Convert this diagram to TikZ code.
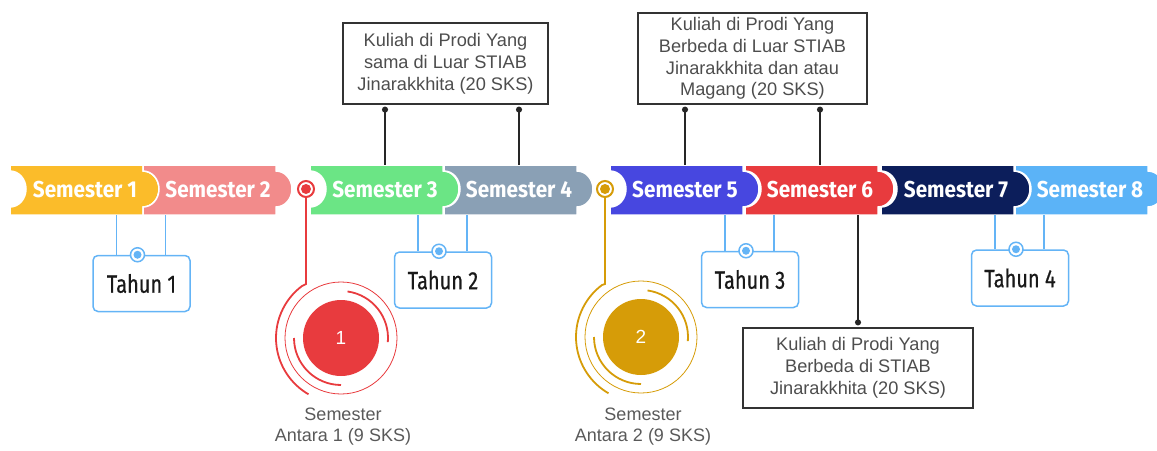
\documentclass[tikz,border=0pt]{standalone}
\usepackage{fontspec}
\setmainfont{Liberation Sans}
\newfontfamily\semfont{Fira Sans}[FakeStretch=0.9]
\newfontfamily\yearfont{Fira Sans}[FakeStretch=0.8,FakeBold=0.6]
\usepackage{tikz}
\usetikzlibrary{calc,arrows.meta}

\definecolor{semA}{HTML}{FBBC2A}
\definecolor{semB}{HTML}{F28B8B}
\definecolor{semC}{HTML}{6BE585}
\definecolor{semD}{HTML}{8AA0B5}
\definecolor{semE}{HTML}{4747E0}
\definecolor{semF}{HTML}{E83B3E}
\definecolor{semG}{HTML}{0C1E5B}
\definecolor{semH}{HTML}{5BB3F7}
\definecolor{yearblue}{HTML}{64B4F6}
\definecolor{antaraA}{HTML}{E83B3E}
\definecolor{antaraB}{HTML}{D69C08}
\definecolor{boxtext}{HTML}{4D4D4D}

\tikzset{
  semlabel/.style={text=white, font=\semfont\bfseries\fontsize{23}{23}\selectfont,
    minimum height=50pt, inner sep=0pt},
  yearbox/.style={draw=yearblue, line width=1.5pt, rounded corners=5pt, fill=white,
    minimum width=97pt, minimum height=56pt, text=black!90,
    font=\yearfont\fontsize{25}{25}\selectfont},
  yearline/.style={yearblue, line width=1.5pt},
  callout/.style={draw=black!80, line width=1.2pt, text=boxtext, align=center,
    inner sep=0pt, font=\fontsize{18.2}{21.8}\selectfont},
  callline/.style={black!85, line width=1.5pt, {Circle[length=6pt]}-},
  antaralabel/.style={align=center, text=black!65, font=\fontsize{18}{21}\selectfont}
}

\begin{document}
\begin{tikzpicture}[x=1pt,y=-1pt]
        \useasboundingbox (0,0) rectangle (1157,450);

        % Draw the semester pieces of the banner
        \foreach \n/\x/\col in {1/10/semA, 2/143/semB, 3/310/semC, 4/444/semD,
                                5/610/semE, 6/745/semF, 7/881/semG, 8/1015/semH} {
            \filldraw[fill=\col, draw=white, line width=1.5pt] (\x,165) -- ++(133,0) -- ++(0,6)
                arc[start angle=-90, end angle=90, x radius=16, y radius=18]
                -- (\x+133,215) -- (\x,215) -- ++(0,-8)
                arc[start angle=90, end angle=-90, x radius=16, y radius=18] -- cycle;
            \node[semlabel] (s\n) at (\x+75,190) {Semester \n};
        }

        % Year boxes below the banner
        \foreach \n/\x/\y in {1/141.5/283.5, 2/443/280, 3/750/279.5, 4/1020/278} {
            \node[yearbox] (t\n) at (\x,\y) {Tahun \n};
            \path (t\n.north) ++(-25,0) coordinate (tl) ++(49,0) coordinate (tr);
            \draw[yearline] (tl) -- (tl |- s1.south);
            \draw[yearline] (tr) -- (tr |- s1.south);
            \filldraw[yearline, fill=white] ($(t\n.north)+(-4,0)$) circle (7);
            \fill[yearblue] ($(t\n.north)+(-4,0)$) circle (4);
        }

        % Semester antara markers and rings
        \foreach \k/\col/\mx/\cx/\cy in {1/antaraA/306/341/338, 2/antaraB/605/641/337} {
            \node[circle, draw=\col, line width=2pt, fill=white, minimum size=16pt, inner sep=0pt] (m\k) at (\mx,189) {};
            \fill[\col] (m\k) circle (5);
            \node[circle, fill=\col, minimum size=76pt, text=white,
                  font=\fontsize{19}{19}\selectfont] (a\k) at (\cx,\cy) {\k};
            \draw[\col, line width=0.8pt] (a\k.center) circle (56);
            \path (a\k.center) ++(-127:65) coordinate (o\k);
            \draw[\col, line width=1.8pt] (m\k.south) -- ++(0,86) -- (o\k)
                arc[start angle=-127, end angle=-240, radius=65];
            \draw[\col, line width=1.8pt] (a\k.center) ++(-82:47) arc[start angle=-82, end angle=5, radius=47];
            \draw[\col, line width=1.8pt] (a\k.center) ++(-180:47) arc[start angle=-180, end angle=-270, radius=47];
            \node[antaralabel] (l\k) at (\cx+2,427) {Semester\\Antara \k{} (9 SKS)};
        }

        % Callout boxes
        \node[callout, minimum width=205pt, minimum height=81pt] (c1) at (445.5,63.5)
            {Kuliah di Prodi Yang\\sama di Luar STIAB\\Jinarakkhita (20 SKS)};
        \node[callout, minimum width=229pt, minimum height=91pt] (c2) at (752.5,58.5)
            {Kuliah di Prodi Yang\\Berbeda di Luar STIAB\\Jinarakkhita dan atau\\Magang (20 SKS)};
        \node[callout, minimum width=230pt, minimum height=80pt] (c3) at (858,368)
            {Kuliah di Prodi Yang\\Berbeda di STIAB\\Jinarakkhita (20 SKS)};

        % Callout connectors
        \draw[callline] ($(s3.north |- c1.south)+(0,2)$) -- (s3.north);
        \draw[callline] ($(s4.north |- c1.south)+(0,2)$) -- (s4.north);
        \draw[callline] ($(s5.north |- c2.south)+(0,2)$) -- (s5.north);
        \draw[callline] ($(s6.north |- c2.south)+(0,2)$) -- (s6.north);
        \draw[callline] ($(c3.north)+(0,-2)$) -- (s6.south -| c3.north);

    \end{tikzpicture}
\end{document}
